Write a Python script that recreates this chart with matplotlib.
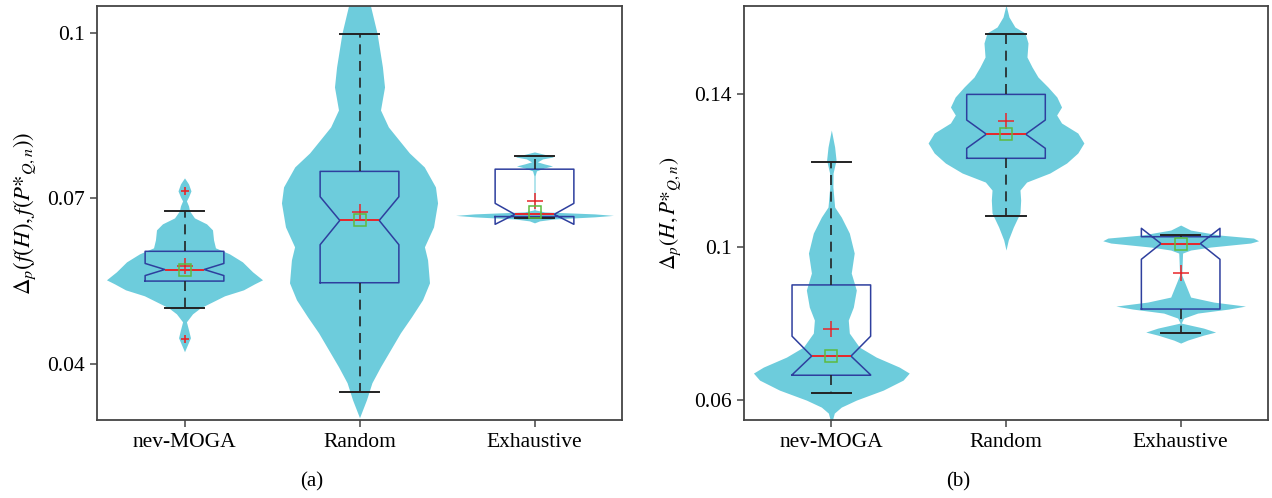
import matplotlib.pyplot as plt

plt.rcParams['font.family'] = ['Liberation Serif', 'DejaVu Serif']
plt.rcParams['mathtext.fontset'] = 'stix'

methods = ['nev-MOGA', 'Random', 'Exhaustive']

# ---- panel (a): box statistics ----
a_med = [0.0571, 0.0660, 0.0671]
a_q1 = [0.0550, 0.0547, 0.0667]
a_q3 = [0.0604, 0.0749, 0.0753]
a_cilo = [0.0560, 0.0616, 0.0653]
a_cihi = [0.0582, 0.0703, 0.0691]
a_whislo = [0.0502, 0.0348, 0.0664]
a_whishi = [0.0678, 0.0998, 0.0777]
a_mean = [0.0578, 0.0676, 0.0696]
a_square = [0.0570, 0.0661, 0.0676]
a_fliers = [[0.0714, 0.0445], [], []]

# violin outlines (value, half width)
a_nev_y = [0.07372, 0.07263, 0.07136, 0.07027, 0.06955, 0.06864, 0.06773, 0.06646, 0.06538,
           0.06429, 0.06248, 0.06103, 0.05994, 0.05849, 0.05668, 0.05523, 0.05450, 0.05341,
           0.05233, 0.05124, 0.05015, 0.04906, 0.04761, 0.04616, 0.04472, 0.04345, 0.04218]
a_nev_w = [0, .023, .037, .023, .011, .023, .029, .057, .126, .160, .166, .177, .257, .331,
           .389, .446, .400, .337, .229, .160, .091, .046, .011, .023, .034, .017, 0]
a_rnd_y = [0.10961, 0.10598, 0.10489, 0.1, 0.09384, 0.09021, 0.08604, 0.08296, 0.08060,
           0.07825, 0.07571, 0.07208, 0.06918, 0.06483, 0.06121, 0.05885, 0.05468, 0.05160,
           0.04852, 0.04562, 0.04254, 0.03946, 0.03656, 0.03348, 0.03021]
a_rnd_w = [0, .051, .063, .100, .131, .143, .120, .165, .225, .285, .370, .434, .446, .423,
           .371, .389, .400, .360, .297, .234, .177, .120, .071, .040, 0]
a_exh_y = [0.07843, 0.07789, 0.07752, 0.07716, 0.07662, 0.07625, 0.07589, 0.07553, 0.07499,
           0.07408, 0.06792, 0.06755, 0.06719, 0.06692, 0.06665, 0.06627, 0.06592, 0.06556]
a_exh_w = [0, .069, .109, .046, .017, .057, .103, .057, .011, .003, .003, .057, .343, .451,
           .343, .114, .029, 0]

# ---- panel (b): box statistics ----
b_med = [0.0715, 0.1295, 0.1009]
b_q1 = [0.0665, 0.1232, 0.0838]
b_q3 = [0.0901, 0.1399, 0.1027]
b_cilo = [0.0666, 0.1258, 0.0968]
b_cihi = [0.0767, 0.1332, 0.1049]
b_whislo = [0.0619, 0.1081, 0.0776]
b_whishi = [0.1222, 0.1556, 0.1031]
b_mean = [0.0787, 0.1330, 0.0931]
b_square = [0.0715, 0.1295, 0.1009]
b_fliers = [[], [], []]

b_nev_y = [0.13059, 0.12614, 0.12274, 0.11935, 0.11569, 0.11046, 0.10784, 0.10366, 0.09843,
           0.09320, 0.08876, 0.08431, 0.08091, 0.07752, 0.07386, 0.07124, 0.06863, 0.06706,
           0.06523, 0.06261, 0.06000, 0.05817, 0.05660, 0.05373]
b_nev_w = [0, .019, .027, .010, .009, .019, .057, .103, .131, .114, .143, .126, .097, .103,
           .160, .257, .389, .446, .411, .297, .143, .057, .017, 0]
b_rnd_y = [0.16327, 0.16013, 0.15752, 0.15595, 0.15333, 0.14967, 0.14706, 0.14444, 0.14183,
           0.13922, 0.13660, 0.13451, 0.13242, 0.12980, 0.12719, 0.12458, 0.12196, 0.11935,
           0.11699, 0.11490, 0.11229, 0.10889, 0.10523, 0.10183, 0.09922]
b_rnd_w = [0, .017, .051, .109, .126, .120, .149, .183, .240, .291, .318, .290, .318, .411,
           .446, .411, .347, .251, .118, .080, .084, .080, .042, .013, 0]
b_exh_y = [0.10575, 0.10444, 0.10314, 0.10235, 0.10165, 0.10105, 0.10000, 0.09922, 0.09843,
           0.09268, 0.08693, 0.08562, 0.08457, 0.08379, 0.08274, 0.08144, 0.08013, 0.07882,
           0.07778, 0.07699, 0.07569, 0.07490]
b_exh_w = [0, .057, .223, .417, .446, .400, .171, .057, .011, .006, .057, .189, .371, .274,
           .097, .017, .003, .131, .200, .131, .040, 0]

VIOLIN = '#6DCCDC'
BOXBLUE = '#2E3F9E'


def draw_panel(ax, med, q1, q3, cilo, cihi, wlo, whi, mean, square, fliers, violins):
    pos = [1, 2, 3]
    for p, (vy, vw) in zip(pos, violins):
        ax.fill_betweenx(vy, [p - w for w in vw], [p + w for w in vw],
                         color=VIOLIN, lw=0, zorder=1)
    stats = []
    for i in range(3):
        stats.append(dict(med=med[i], q1=q1[i], q3=q3[i], cilo=cilo[i], cihi=cihi[i],
                          whislo=wlo[i], whishi=whi[i], mean=mean[i], fliers=fliers[i]))
    ax.bxp(stats, positions=pos, widths=0.45, shownotches=True, showmeans=True,
           boxprops=dict(color=BOXBLUE, lw=1.1),
           medianprops=dict(color='#E8262A', lw=1.4),
           whiskerprops=dict(color='#222222', lw=1.2, linestyle=(0, (6, 4))),
           capprops=dict(color='#222222', lw=1.4),
           meanprops=dict(marker='+', markeredgecolor='#E8262A', markersize=11, mew=1.1),
           flierprops=dict(marker='+', markeredgecolor='#E8262A', markersize=6, mew=1.2),
           zorder=3)
    ax.plot(pos, square, 's', mfc='none', mec='#5DBB3F', ms=8, mew=1.1, zorder=4)
    ax.set_xlim(0.5, 3.5)
    ax.set_xticks(pos)
    ax.set_xticklabels(methods, fontsize=15.5)
    for s in ax.spines.values():
        s.set_color('#444444')
        s.set_linewidth(1.3)
    ax.tick_params(direction='out', length=5, width=1.1, color='#444444',
                   labelsize=15.5, pad=4)


fig = plt.figure(figsize=(12.72, 4.98), dpi=100)
ax_a = fig.add_axes([97 / 1272, 78 / 498, 525 / 1272, 414 / 498])
ax_b = fig.add_axes([744 / 1272, 78 / 498, 524 / 1272, 414 / 498])

draw_panel(ax_a, a_med, a_q1, a_q3, a_cilo, a_cihi, a_whislo, a_whishi, a_mean, a_square,
           a_fliers, [(a_nev_y, a_nev_w), (a_rnd_y, a_rnd_w), (a_exh_y, a_exh_w)])
ax_a.set_ylim(0.0298, 0.1049)
ax_a.set_yticks([0.04, 0.07, 0.1])
ax_a.set_yticklabels(['0.04', '0.07', '0.1'])
ax_a.set_ylabel(r'$\Delta_p(f(H),f(P{*}_{Q,n}))$', fontsize=16.5, labelpad=6)

draw_panel(ax_b, b_med, b_q1, b_q3, b_cilo, b_cihi, b_whislo, b_whishi, b_mean, b_square,
           b_fliers, [(b_nev_y, b_nev_w), (b_rnd_y, b_rnd_w), (b_exh_y, b_exh_w)])
ax_b.set_ylim(0.0548, 0.163)
ax_b.set_yticks([0.06, 0.1, 0.14])
ax_b.set_yticklabels(['0.06', '0.1', '0.14'])
ax_b.set_ylabel(r'$\Delta_p(H,P{*}_{Q,n})$', fontsize=15.5, labelpad=8)

fig.text(312 / 1272, 1 - 482 / 498, '(a)', ha='center', va='center', fontsize=15)
fig.text(958 / 1272, 1 - 482 / 498, '(b)', ha='center', va='center', fontsize=15)

fig.savefig('out.png', dpi=100)
